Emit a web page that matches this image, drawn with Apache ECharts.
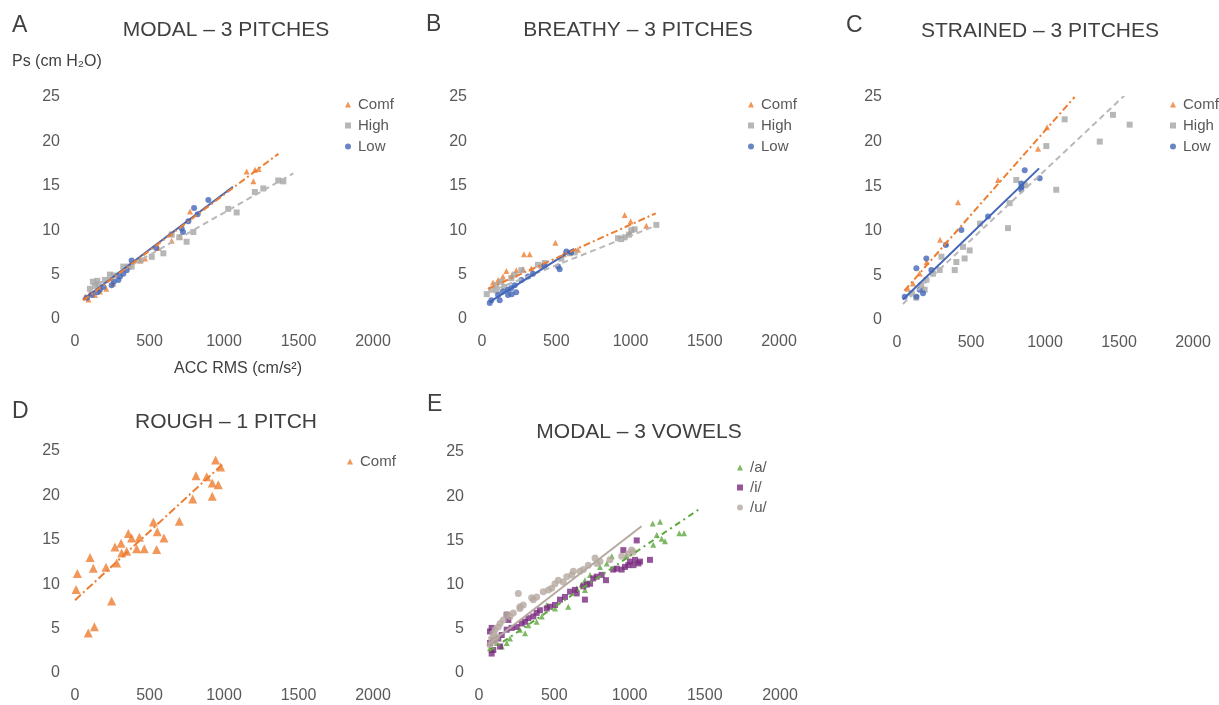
<!DOCTYPE html>
<html>
<head>
<meta charset="utf-8">
<script src="https://cdn.jsdelivr.net/npm/echarts@6/dist/echarts.min.js"></script>
<style>
  html, body { margin: 0; padding: 0; background: #fff; }
  #chart { width: 1219px; height: 705px; }
</style>
</head>
<body>
<div id="chart"></div>
<script>
// axis ranges (ACC RMS cm/s2 vs Ps cm H2O)
const xRange = [0, 2000, 500];
const yRange = [0, 25, 5];

// A - modal, 3 pitches
const modalComf = [[1152,16.6],[1208,16.8],[1232,16.9],[1197,15.5],[772,12.1],[704,9.3],[649,8.8],[642,9.6],[436,6.6],[470,6.8],
  [67,2.5],[100,2.9],[134,2.7],[167,3.1],[257,4.0],[560,8.0],[210,3.4],[90,2.2]];
const modalHigh = [[649,9.5],[749,8.7],[794,9.8],[1028,12.4],[1085,12.0],[1207,14.3],[1264,14.7],[1364,15.6],[1398,15.5],[593,7.4],
  [515,7.0],[324,5.9],[358,5.9],[380,5.9],[234,5.0],[201,4.4],[134,3.7],[157,3.9],[100,3.4],[120,4.2],[150,4.3],[260,4.9],[700,9.2],[440,6.6]];
const modalLow = [[895,13.4],[799,12.5],[823,11.8],[761,11.0],[716,10.2],[725,9.8],[544,8.0],[380,6.6],[347,5.5],[324,5.1],[302,4.8],
  [246,3.8],[291,4.4],[190,3.6],[167,3.3],[112,2.7],[80,2.4],[150,3.0],[260,4.2]];
const modalTrendComf = [[55,2.1],[1365,18.6]];
const modalTrendHigh = [[100,3.4],[1465,16.4]];
const modalTrendLow = [[55,2.2],[1060,14.9]];

// B - breathy, 3 pitches
const breathyComf = [[961,11.7],[1001,11.0],[1107,10.5],[994,9.65],[494,8.6],[283,7.3],[321,7.3],[164,5.4],[231,5.5],[276,5.6],
  [332,5.7],[646,7.8],[108,4.4],[141,4.8],[74,4.1],[200,4.9],[400,6.0],[550,7.3]];
const breathyHigh = [[1174,10.6],[1005,10.0],[1028,10.1],[916,9.1],[961,9.2],[938,9.0],[624,7.5],[591,7.4],[534,6.8],[422,6.3],
  [377,6.1],[265,5.5],[220,5.0],[197,4.6],[130,4.2],[96,3.8],[63,3.3],[32,2.8],[100,3.2],[150,3.6],[990,9.5]];
const breathyLow = [[568,7.6],[512,5.9],[523,5.6],[310,4.8],[343,5.1],[265,4.4],[220,3.8],[175,3.3],[197,3.5],[141,3.1],[108,2.7],
  [63,2.1],[52,1.8],[119,2.1],[175,2.7],[230,3.0],[200,2.8],[420,6.0],[600,7.5]];
const breathyTrendComf = [[40,3.4],[1170,11.9]];
const breathyTrendHigh = [[40,3.0],[1170,10.5]];
const breathyTrendLow = [[50,1.9],[620,7.9]];

// C - strained, 3 pitches
const strainedComf = [[412,13.2],[953,19.2],[1014,21.6],[682,15.7],[333,8.6],[291,9.0],[153,5.2],[108,4.1],[74,3.5],[200,6.5]];
const strainedHigh = [[1133,22.5],[1459,23.0],[1572,21.9],[1370,20.0],[1009,19.5],[1076,14.6],[806,15.7],[761,13.1],[750,10.3],
  [491,7.8],[457,6.9],[401,6.5],[390,5.6],[446,8.2],[300,7.1],[288,5.6],[243,5.2],[198,4.5],[187,3.4],[164,3.9],[561,10.8],
  [865,15.1],[100,3.0],[130,2.5]];
const strainedLow = [[863,16.8],[964,15.9],[840,15.3],[840,14.6],[840,14.9],[615,11.6],[435,10.1],[198,6.9],[131,5.8],[232,5.6],
  [153,3.4],[131,2.6],[176,3.0],[52,2.6],[330,8.4]];
const strainedTrendComf = [[50,3.3],[1200,25.0]];
const strainedTrendHigh = [[40,1.8],[1590,26.0]];
const strainedTrendLow = [[40,2.3],[960,17.0]];

// D - rough, 1 pitch
const roughComf = [[16,11.2],[7,9.4],[101,13.0],[123,11.8],[89,4.5],[130,5.2],[208,11.9],[246,8.1],[268,14.2],[280,12.4],[309,14.6],
  [313,13.5],[347,13.7],[358,15.7],[380,15.2],[414,14.0],[432,15.3],[465,14.0],[526,17.0],[552,15.9],[548,13.9],[597,15.2],
  [700,17.1],[790,19.6],[812,22.2],[884,22.1],[921,19.9],[921,21.4],[944,24.0],[962,21.2],[978,23.2]];
const roughTrendComf = [[0,8.2],[990,23.5]];

// E - modal, 3 vowels
const vowelA = [[1154,16.9],[1203,17.1],[1331,15.8],[1362,15.8],[1181,15.6],[1214,15.2],[1236,14.9],[1158,14.5],[981,13.3],[882,13.2],
  [804,12.0],[849,12.4],[704,10.5],[738,11.1],[682,10.0],[649,9.6],[593,7.5],[505,7.3],[450,7.7],[328,5.4],[306,4.5],[272,4.9],
  [206,3.9],[184,3.4],[151,3.0],[118,3.4],[73,2.8],[84,2.6],[383,5.8],[417,6.4],[704,9.4]];
const vowelI = [[1048,15.0],[959,13.9],[1136,12.8],[1003,12.6],[1037,12.8],[1059,12.4],[1026,12.2],[992,12.2],[1070,12.6],[915,11.8],
  [892,11.7],[948,11.7],[970,12.0],[844,10.5],[815,11.1],[782,10.9],[759,10.7],[738,10.1],[716,10.0],[693,9.8],[704,8.3],[638,9.4],
  [605,9.2],[649,9.0],[571,8.6],[538,8.3],[505,7.7],[472,7.5],[450,7.3],[405,7.1],[383,6.8],[361,6.4],[328,6.2],[306,5.8],
  [284,5.6],[250,5.2],[217,5.1],[184,4.9],[184,6.6],[195,6.0],[151,4.3],[128,3.9],[95,3.7],[73,3.4],[84,5.1],[73,4.7],[95,2.6],
  [84,2.2],[140,3.0]];
const vowelU = [[1014,13.9],[1025,13.7],[992,13.5],[948,13.2],[870,12.8],[771,13.0],[804,12.6],[782,12.4],[726,12.2],[693,11.7],
  [671,11.5],[627,11.5],[616,11.1],[583,10.9],[560,10.3],[527,10.5],[505,10.1],[461,9.4],[483,9.6],[427,9.2],[383,8.6],[361,8.3],
  [350,8.5],[294,7.7],[272,7.3],[228,6.8],[206,6.4],[184,6.6],[161,6.0],[140,5.6],[128,5.2],[106,4.9],[95,4.5],[118,4.1],
  [84,3.9],[106,3.6],[73,3.2],[261,9.0],[272,7.5]];
const vowelTrendA = [[70,2.5],[1460,18.5]];
const vowelTrendU = [[60,3.2],[1080,16.6]];

const ORANGE = '#ed7d31', GRAY = '#a5a5a5', BLUE = '#4466b8';
const GREEN = '#5ea83e', PURPLE = '#7b2a80', TAUPE = '#b5a9a0';

// panel boxes: [left, top, width, height]
const panels = [
  [75, 97, 298, 222],
  [482, 97, 297, 222],
  [897, 97, 296, 223],
  [75, 451, 298, 222],
  [479, 452, 301, 221]
];

const tickFont = { color: '#595959', fontSize: 16, margin: 15, fontFamily: 'Liberation Sans', formatter: v => String(v) };
const grids = panels.map(p => ({ left: p[0], top: p[1], width: p[2], height: p[3] }));
const xAxes = panels.map((p, i) => ({
  type: 'value', gridIndex: i, min: xRange[0], max: xRange[1], interval: xRange[2],
  axisLine: { show: false }, axisTick: { show: false }, splitLine: { show: false },
  axisLabel: tickFont
}));
const yAxes = panels.map((p, i) => ({
  type: 'value', gridIndex: i, min: yRange[0], max: yRange[1], interval: yRange[2],
  axisLine: { show: false }, axisTick: { show: false }, splitLine: { show: false },
  axisLabel: tickFont
}));

function dots(name, data, idx, symbol, color, size) {
  return {
    name: name, type: 'scatter', xAxisIndex: idx, yAxisIndex: idx, data: data,
    symbol: symbol, symbolSize: size, itemStyle: { color: color }, z: 2
  };
}
function trend(data, idx, color, dash) {
  return {
    name: 'trend', type: 'line', xAxisIndex: idx, yAxisIndex: idx, data: data,
    symbol: 'none', silent: true, z: 3,
    lineStyle: { color: color, width: 2, type: dash }
  };
}
const dashDot = [7, 3, 2, 3];
const dashed = [6, 4];

const series = [
  dots('Comf', modalComf, 0, 'triangle', ORANGE, 6),
  dots('High', modalHigh, 0, 'rect', GRAY, 6),
  dots('Low', modalLow, 0, 'circle', BLUE, 6),
  trend(modalTrendHigh, 0, '#b8b8b8', dashed),
  trend(modalTrendLow, 0, BLUE, 'solid'),
  trend(modalTrendComf, 0, ORANGE, dashDot),

  dots('Comf', breathyComf, 1, 'triangle', ORANGE, 6),
  dots('High', breathyHigh, 1, 'rect', GRAY, 6),
  dots('Low', breathyLow, 1, 'circle', BLUE, 6),
  trend(breathyTrendHigh, 1, '#b8b8b8', dashed),
  trend(breathyTrendLow, 1, BLUE, 'solid'),
  trend(breathyTrendComf, 1, ORANGE, dashDot),

  dots('Comf', strainedComf, 2, 'triangle', ORANGE, 6),
  dots('High', strainedHigh, 2, 'rect', GRAY, 6),
  dots('Low', strainedLow, 2, 'circle', BLUE, 6),
  trend(strainedTrendHigh, 2, '#b8b8b8', dashed),
  trend(strainedTrendLow, 2, BLUE, 'solid'),
  trend(strainedTrendComf, 2, ORANGE, dashDot),

  dots('Comf', roughComf, 3, 'triangle', ORANGE, 9),
  trend(roughTrendComf, 3, ORANGE, [8, 3, 2, 3]),

  dots('/a/', vowelA, 4, 'triangle', GREEN, 6),
  dots('/i/', vowelI, 4, 'rect', PURPLE, 6),
  dots('/u/', vowelU, 4, 'circle', TAUPE, 7),
  trend(vowelTrendU, 4, TAUPE, 'solid'),
  trend(vowelTrendA, 4, GREEN, [6, 4, 2, 4])
];

function legendAt(left, top, names, icons, gap) {
  return {
    left: left, top: top, orient: 'vertical', itemWidth: 6, itemHeight: 6, itemGap: gap,
    selectedMode: false,
    data: names.map((n, i) => ({ name: n, icon: icons[i] })),
    textStyle: { color: '#595959', fontSize: 15, lineHeight: 15, fontFamily: 'Liberation Sans', padding: [0, 0, 0, 2] }
  };
}
const pitchNames = ['Comf', 'High', 'Low'];
const pitchIcons = ['triangle', 'rect', 'circle'];

function label(text, x, y, size, align) {
  return {
    type: 'text', x: x, y: y,
    style: { text: text, fill: '#404040', font: size + 'px "Liberation Sans", Arial, sans-serif',
      textAlign: align || 'center', textVerticalAlign: 'middle' }
  };
}

const chart = echarts.init(document.getElementById('chart'));
chart.setOption({
  animation: false,
  grid: grids,
  xAxis: xAxes,
  yAxis: yAxes,
  legend: [
    legendAt(340, 92, pitchNames, pitchIcons, 6),
    legendAt(743, 92, pitchNames, pitchIcons, 6),
    legendAt(1165, 92, pitchNames, pitchIcons, 6),
    legendAt(342, 449, ['Comf'], ['triangle'], 6),
    legendAt(732, 455, ['/a/', '/i/', '/u/'], pitchIcons, 5)
  ],
  graphic: [
    label('A', 12, 26, 23, 'left'),
    label('B', 426, 25, 23, 'left'),
    label('C', 846, 26, 23, 'left'),
    label('D', 12, 412, 23, 'left'),
    label('E', 427, 405, 23, 'left'),
    label('MODAL – 3 PITCHES', 226, 30, 21),
    label('BREATHY – 3 PITCHES', 638, 30, 21),
    label('STRAINED – 3 PITCHES', 1040, 31, 21),
    label('ROUGH – 1 PITCH', 226, 422, 21),
    label('MODAL – 3 VOWELS', 639, 432, 21),
    label('Ps (cm H₂O)', 12, 62, 16, 'left'),
    label('ACC RMS (cm/s²)', 238, 369, 16)
  ],
  series: series
});
</script>
</body>
</html>
